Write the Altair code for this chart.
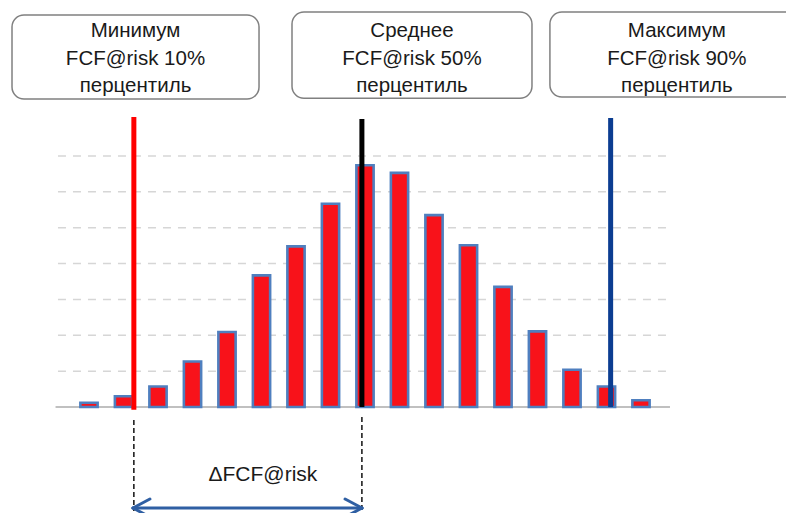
import altair as alt
import pandas as pd

# Frequency of simulated FCF outcomes per bin (in grid units)
bins = list(range(17))
freq = [0.12, 0.30, 0.57, 1.27, 2.09, 3.67, 4.48, 5.67, 6.74,
        6.53, 5.35, 4.51, 3.35, 2.11, 1.04, 0.57, 0.19]

# Percentile positions on the bin axis and their colours
pct_names = ["p10", "p50", "p90"]
pct_pos = [1.30, 7.91, 15.12]
pct_colors = ["#ff0000", "#000000", "#0b3d91"]

# Callout labels
box_titles = ["Минимум", "Среднее", "Максимум"]
box_pcts = ["10%", "50%", "90%"]
grid_levels = [1, 2, 3, 4, 5, 6, 7]
delta_label = "ΔFCF@risk"

# ---- layout (bin units on x, grid units on y) ----
W, H = 786, 513
xs = alt.Scale(domain=[-2.580, 20.203], nice=False, zero=False)
ys = alt.Scale(domain=[-2.956, 11.35], nice=False, zero=False)
GRID_X = (-0.90, 16.84)
BASE_X = (-0.97, 16.84)
BAR_HALF = 0.25
LINE_TOP = [8.09, 8.03, 8.06]
LINE_BOTTOM = [-0.08, 0.0, 0.0]
BOX_X = [(-2.232, 4.928), (5.884, 12.84), (13.36, 20.72)]
BOX_Y = [(8.589, 10.93), (8.61, 11.015), (8.645, 11.015)]
BOX_TEXT_X = [1.348, 9.362, 17.04]
BOX_TEXT_Y = 10.318
DASH_TOP = [-0.3625, -0.279]
DASH_BOTTOM = -2.90
ARROW_Y = -2.817
ARROW_ARM = 0.49
ARROW_SPAN = 0.251


def X(f, **kw):
    return alt.X(f, type="quantitative", scale=xs, axis=None, **kw)


def Y(f, **kw):
    return alt.Y(f, type="quantitative", scale=ys, axis=None, **kw)


def X2(f):
    return alt.X2(f)


def Y2(f):
    return alt.Y2(f)


# dashed horizontal gridlines
grid_df = pd.DataFrame({"v": grid_levels, "x0": GRID_X[0], "x1": GRID_X[1]})
grid = alt.Chart(grid_df).mark_rule(
    color="#d6d6d6", strokeWidth=1.5, strokeDash=[8, 7]
).encode(x=X("x0"), x2=X2("x1"), y=Y("v"))

# baseline
base_df = pd.DataFrame({"v": [0], "x0": [BASE_X[0]], "x1": [BASE_X[1]]})
base = alt.Chart(base_df).mark_rule(color="#c0c0c0", strokeWidth=2).encode(
    x=X("x0"), x2=X2("x1"), y=Y("v")
)

# histogram bars
bar_df = pd.DataFrame({"bin": bins, "freq": freq})
bar_df["x0"] = bar_df["bin"] - BAR_HALF
bar_df["x1"] = bar_df["bin"] + BAR_HALF
bar_df["y0"] = 0.0
bars = alt.Chart(bar_df).mark_bar(
    fill="#f8121a", stroke="#4f7fbf", strokeWidth=2.6
).encode(x=X("x0"), x2=X2("x1"), y=Y("y0"), y2=Y2("freq"))

# percentile lines
pct_df = pd.DataFrame({
    "name": pct_names, "x": pct_pos, "top": LINE_TOP, "bottom": LINE_BOTTOM
})
pct_lines = alt.Chart(pct_df).mark_rule(strokeWidth=5).encode(
    x=X("x"), y=Y("bottom"), y2=Y2("top"),
    color=alt.Color("name:N", scale=alt.Scale(domain=pct_names, range=pct_colors), legend=None),
)

# callout boxes
box_df = pd.DataFrame({
    "x0": [b[0] for b in BOX_X], "x1": [b[1] for b in BOX_X],
    "y0": [b[0] for b in BOX_Y], "y1": [b[1] for b in BOX_Y],
})
boxes = alt.Chart(box_df).mark_rect(
    fill="white", stroke="#808080", strokeWidth=1.5, cornerRadius=12
).encode(x=X("x0"), x2=X2("x1"), y=Y("y0"), y2=Y2("y1"))

txt_df = pd.DataFrame({
    "x": BOX_TEXT_X,
    "y": BOX_TEXT_Y,
    "label": [f"{t}\nFCF@risk {p}\nперцентиль" for t, p in zip(box_titles, box_pcts)],
})
box_text = alt.Chart(txt_df).mark_text(
    font="Liberation Sans", fontSize=20.5, color="#1a1a1a", align="center",
    baseline="alphabetic", lineBreak="\n", lineHeight=27.5
).encode(x=X("x"), y=Y("y"), text="label:N")

# dashed drop lines from the 10% and 50% percentiles
drop_df = pd.DataFrame({"x": pct_pos[:2], "top": DASH_TOP, "bottom": DASH_BOTTOM})
drops = alt.Chart(drop_df).mark_rule(
    color="#111111", strokeWidth=1.5, strokeDash=[5, 3]
).encode(x=X("x"), y=Y("top"), y2=Y2("bottom"))

# double-headed arrow between the two percentiles
xa, xb = pct_pos[0] - 0.025, pct_pos[1] + 0.003
arrow_df = pd.DataFrame({
    "x0": [xa, xa, xa, xb, xb],
    "x1": [xb, xa + ARROW_ARM, xa + ARROW_ARM, xb - ARROW_ARM, xb - ARROW_ARM],
    "y0": [ARROW_Y] * 5,
    "y1": [ARROW_Y, ARROW_Y + ARROW_SPAN, ARROW_Y - ARROW_SPAN,
           ARROW_Y + ARROW_SPAN, ARROW_Y - ARROW_SPAN],
})
arrow = alt.Chart(arrow_df).mark_rule(
    color="#2f5fa3", strokeWidth=3, strokeCap="round"
).encode(x=X("x0"), x2=X2("x1"), y=Y("y0"), y2=Y2("y1"))

delta_df = pd.DataFrame({"x": [5.04], "y": [-2.06], "label": [delta_label]})
delta_text = alt.Chart(delta_df).mark_text(
    font="Liberation Sans", fontSize=21, color="#1a1a1a", align="center",
    baseline="alphabetic"
).encode(x=X("x"), y=Y("y"), text="label:N")

chart = alt.layer(
    grid, base, bars, pct_lines, boxes, box_text, drops, arrow, delta_text
).properties(
    width=W, height=H,
    autosize=alt.AutoSizeParams(type="none"),
    padding=0,
    background="white",
).configure_view(stroke=None)

chart.save("out.html", embed_options={"renderer": "svg", "actions": False})
